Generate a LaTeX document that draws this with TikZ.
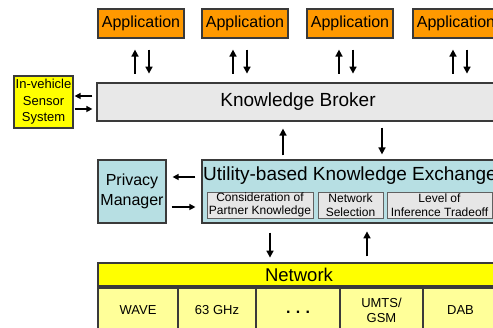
\documentclass[tikz,border=0pt]{standalone}
\usepackage{fontspec}
\setmainfont{Liberation Sans}
\usetikzlibrary{arrows.meta,calc}
\definecolor{apporange}{HTML}{FF9900}
\definecolor{netyellow}{HTML}{FFFF00}
\definecolor{cellyellow}{HTML}{FFFF99}
\definecolor{lightblue}{HTML}{B7DFE3}
\definecolor{brokergray}{HTML}{E8E8E8}
\definecolor{subgray}{HTML}{E6E6E6}
\definecolor{edgegray}{HTML}{3A3A3A}
\begin{document}
\begin{tikzpicture}[x=1pt,y=-1pt,
  box/.style={draw=edgegray, line width=1.2pt, inner sep=0pt, align=center, text=black},
  appbox/.style={box, fill=apporange, minimum width=86pt, minimum height=29pt, font=\fontsize{16}{18}\selectfont},
  subbox/.style={draw=edgegray!80, line width=0.9pt, fill=subgray, inner sep=0pt, align=center, minimum height=26pt, font=\fontsize{12}{13.5}\selectfont},
  cellbox/.style={box, fill=cellyellow, minimum height=44pt, font=\fontsize{13}{15}\selectfont},
  arr/.style={-{Triangle[length=7pt,width=7pt]}, line width=1.6pt, black},
  sarr/.style={-{Triangle[length=6pt,width=6pt]}, line width=1.4pt, black}]
\useasboundingbox (0,0) rectangle (493,328);
\clip (0,0) rectangle (493,328);

% applications
\node[appbox] (app1) at (141,23.5) {Application};
\node[appbox] (app2) at (245,23.5) {Application};
\node[appbox] (app3) at (350,23.5) {Application};
\node[appbox] (app4) at (456,23.5) {Application};

% broker
\node[box, fill=brokergray, minimum width=402pt, minimum height=38pt, font=\fontsize{19}{22}\selectfont] (broker) at (298,102) {Knowledge Broker};

% sensor
\node[box, fill=netyellow, minimum width=59pt, minimum height=52pt, font=\fontsize{13}{16.5}\selectfont] (sensor) at (43.5,102) {In-vehicle\\Sensor\\System};

% privacy
\node[box, fill=lightblue, minimum width=68pt, minimum height=63pt, font=\fontsize{16}{20}\selectfont] (privacy) at (132,191.5) {Privacy\\Manager};

% utility
\node[box, fill=lightblue, minimum width=296pt, minimum height=63pt] (utility) at (350,191.5) {};
\node[inner sep=0pt, font=\fontsize{19}{22}\selectfont] (utitle) at ($(utility.north)+(0,16)$) {Utility-based Knowledge Exchange};
\node[subbox, minimum width=106pt] (sub1) at (260,205) {Consideration of\\Partner Knowledge};
\node[subbox, minimum width=65pt] (sub2) at (350.5,205) {Network\\Selection};
\node[subbox, minimum width=105pt] (sub3) at (439.5,205) {Level of\\Inference Tradeoff};

% network
\node[box, fill=netyellow, minimum width=402pt, minimum height=23pt, font=\fontsize{18.5}{20}\selectfont] (network) at (299,274.5) {Network};
\node[cellbox, minimum width=80pt] (wave) at (138,310) {WAVE};
\node[cellbox, minimum width=78pt] (ghz) at (217,310) {63 GHz};
\node[cellbox, minimum width=84pt, font=\fontsize{16}{18}\selectfont\bfseries] (dots) at (298,310) {\raisebox{-7pt}{.\,\,.\,\,.}};
\node[cellbox, minimum width=83pt] (umts) at (381.5,310) {UMTS/\\GSM};
\node[cellbox, minimum width=75pt] (dab) at (460.5,310) {DAB};

% app <-> broker arrows
\draw[arr] ($(app1.south)+(-6,35)$) -- ($(app1.south)+(-6,11)$);
\draw[arr] ($(app1.south)+(8,11)$) -- ($(app1.south)+(8,35)$);
\draw[arr] ($(app2.south)+(-12,35)$) -- ($(app2.south)+(-12,11)$);
\draw[arr] ($(app2.south)+(2,11)$) -- ($(app2.south)+(2,35)$);
\draw[arr] ($(app3.south)+(-11,35)$) -- ($(app3.south)+(-11,11)$);
\draw[arr] ($(app3.south)+(3,11)$) -- ($(app3.south)+(3,35)$);
\draw[arr] ($(app4.south)+(-3,35)$) -- ($(app4.south)+(-3,11)$);
\draw[arr] ($(app4.south)+(11,11)$) -- ($(app4.south)+(11,35)$);

% sensor <-> broker
\draw[sarr] ($(broker.west)+(-4,-6)$) -- ($(sensor.east)+(1,-6)$);
\draw[sarr] ($(sensor.east)+(1,7)$) -- ($(broker.west)+(-4,7)$);

% broker <-> utility
\draw[arr] ($(utility.north)+(-67,-4)$) -- ($(broker.south)+(-15,7)$);
\draw[arr] ($(broker.south)+(84,6)$) -- ($(utility.north)+(32,-5)$);

% privacy <-> utility
\draw[sarr] ($(utility.west)+(-6,-14.5)$) -- ($(privacy.east)+(6,-14.5)$);
\draw[sarr] ($(privacy.east)+(5,15.5)$) -- ($(utility.west)+(-6,15.5)$);

% utility <-> network
\draw[arr] ($(utility.south)+(-80,9)$) -- ($(utility.south)+(-80,34)$);
\draw[arr] ($(network.north)+(68,-6)$) -- ($(network.north)+(68,-31)$);
\end{tikzpicture}
\end{document}
